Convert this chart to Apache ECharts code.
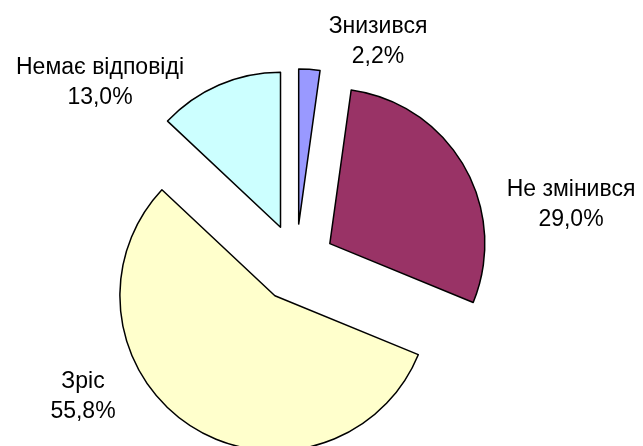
<!DOCTYPE html>
<html>
<head>
<meta charset="utf-8">
<script src="https://cdn.jsdelivr.net/npm/echarts@6/dist/echarts.min.js"></script>
<style>
html,body{margin:0;padding:0;background:#fff;}
#chart{width:643px;height:446px;}
</style>
</head>
<body>
<div id="chart"></div>
<script>
var categories = ['Знизився', 'Не змінився', 'Зріс', 'Немає відповіді'];
var values = [2.2, 29.0, 55.8, 13.0];
var colors = ['#9999FF', '#993366', '#FFFFCC', '#CCFFFF'];
// label block centres (layout, not data)
var labelX = [378, 571, 83, 100];
var labelY = [42, 205, 397, 83];

var chart = echarts.init(document.getElementById('chart'), null, {renderer: 'canvas'});
var data = categories.map(function (c, i) {
  return {name: c, value: values[i], selected: true, itemStyle: {color: colors[i]}};
});
var labels = categories.map(function (c, i) {
  return {
    type: 'text',
    x: labelX[i],
    y: labelY[i],
    silent: true,
    style: {
      text: c + '\n' + values[i].toFixed(1).replace('.', ',') + '%',
      fill: '#000',
      font: '23px "Liberation Sans", Arial, sans-serif',
      lineHeight: 30,
      align: 'center',
      verticalAlign: 'middle',
      textAlign: 'center',
      textVerticalAlign: 'middle'
    }
  };
});
chart.setOption({
  animation: false,
  backgroundColor: '#ffffff',
  graphic: labels,
  series: [{
    type: 'pie',
    center: [296, 263],
    radius: [0, 155],
    startAngle: 90,
    clockwise: true,
    selectedMode: 'multiple',
    selectedOffset: 39,
    emphasis: {disabled: true},
    select: {itemStyle: {borderColor: '#000', borderWidth: 1.5}},
    itemStyle: {borderColor: '#000', borderWidth: 1.5},
    label: {show: false},
    labelLine: {show: false},
    data: data
  }]
});
</script>
</body>
</html>
